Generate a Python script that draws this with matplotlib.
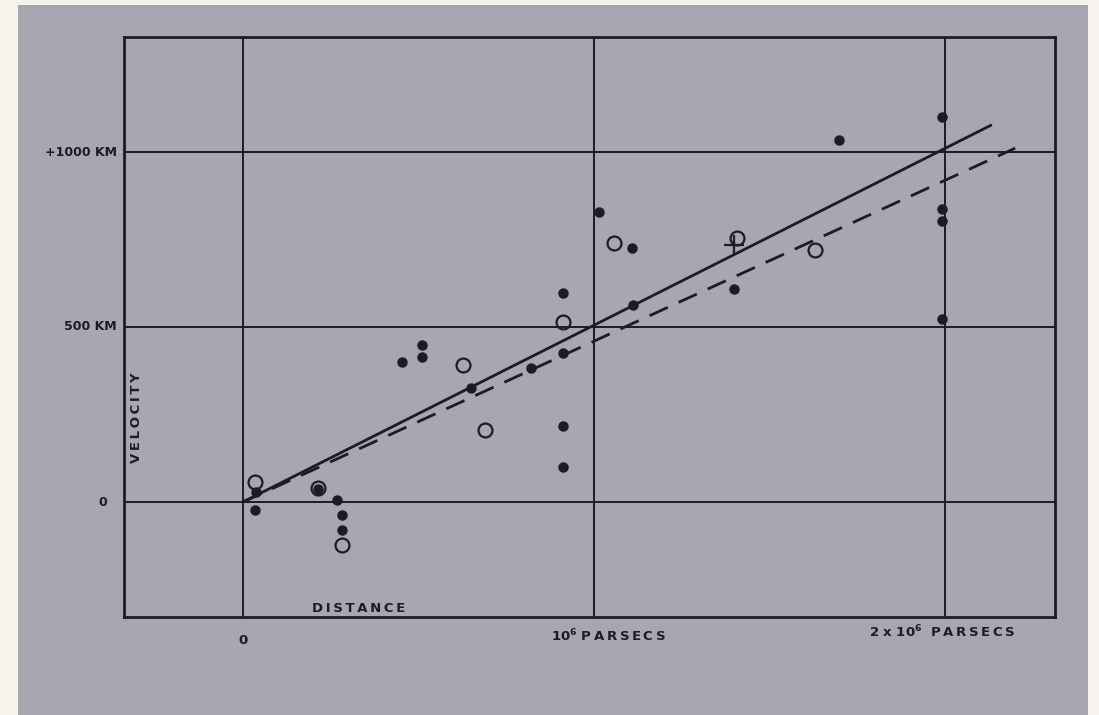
import matplotlib
matplotlib.use("Agg")
import matplotlib.pyplot as plt
from matplotlib.patches import Rectangle

# Distances in units of 10^6 parsecs, velocities in km/s
filled_dist = [0.037, 0.034, 0.214, 0.269, 0.283, 0.283, 0.454, 0.511, 0.511,
               0.649, 0.82, 0.911, 0.911, 0.911, 0.911, 1.014, 1.109, 1.111,
               1.4, 1.697, 1.991, 1.991, 1.991, 1.991]
filled_vel = [29, -23, 37, 6, -37, -80, 400, 449, 414,
              326, 383, 426, 217, 100, 597, 829, 726, 563,
              609, 1034, 1100, 837, 803, 523]

open_dist = [0.034, 0.214, 0.283, 0.626, 0.689, 0.911, 1.057, 1.406, 1.629]
open_vel = [57, 40, -123, 391, 206, 514, 740, 754, 720]

cross_dist = [1.40]
cross_vel = [735]

solid_line_x = [0.0, 2.13]
solid_line_y = [0.0, 1076]
dashed_line_x = [0.0, 2.20]
dashed_line_y = [0.0, 1011]

ytick_vals = [0, 500, 1000]
ytick_labels = ["0", "500 KM", "+1000 KM"]
xtick_vals = [0, 1, 2]

cream = "#f6f3ec"
gray = "#a8a6b0"
ink = "#1c1c22"
TS = "\u2009"  # thin space for letter spacing


def spaced(s):
    return TS.join(s)


W, H = 1099, 715
fig = plt.figure(figsize=(W / 100, H / 100), dpi=100, facecolor=cream)
# photographed page area
fig.patches.append(Rectangle((18 / W, 0), (1088 - 18) / W, (715 - 5) / H,
                             transform=fig.transFigure, facecolor=gray,
                             edgecolor="none", zorder=-10))

left, right, top, bottom = 124, 1055, 37, 617
ax = fig.add_axes([left / W, 1 - bottom / H, (right - left) / W, (bottom - top) / H])
ax.set_zorder(5)
ax.set_facecolor(gray)

x0px, xscale = 243, 351.0
y0px, yscale = 502, 175.0 / 500
ax.set_xlim((left - x0px) / xscale, (right - x0px) / xscale)
ax.set_ylim((y0px - bottom) / yscale, (y0px - top) / yscale)

for s in ax.spines.values():
    s.set_linewidth(2.0)
    s.set_color(ink)
ax.set_xticks([])
ax.set_yticks([])

for xv in xtick_vals:
    ax.axvline(xv, color=ink, lw=1.4, zorder=1)
for yv in ytick_vals:
    ax.axhline(yv, color=ink, lw=1.4, zorder=1)

ax.plot(solid_line_x, solid_line_y, color=ink, lw=2.0, zorder=2)
ax.plot(dashed_line_x, dashed_line_y, color=ink, lw=2.0, zorder=2,
        dashes=(7.2, 4.3))

ax.plot(filled_dist, filled_vel, "o", color=ink, ms=6.5, zorder=3)
ax.plot(open_dist, open_vel, "o", mfc="none", mec=ink, mew=1.6, ms=10, zorder=3)
ax.plot(cross_dist, cross_vel, "+", color=ink, ms=14, mew=1.6, zorder=3)

yfont = dict(family="DejaVu Sans", fontweight="bold", color=ink, fontsize=9, zorder=20)
xfont = dict(family="DejaVu Sans", fontweight="bold", color=ink, fontsize=9.5, zorder=20)

# y labels (left of frame)
for yv, lab in zip(ytick_vals, ytick_labels):
    ypos = 1 - (y0px - yv * yscale) / H
    if lab == "0":
        fig.text(103 / W, ypos, lab, ha="center", va="center", **yfont)
    else:
        fig.text(117 / W, ypos, lab, ha="right", va="center", **yfont)

fig.text(137 / W, 1 - 418 / H, spaced("VELOCITY"), rotation=90,
         ha="center", va="center", **xfont)
fig.text(359 / W, 1 - 608 / H, spaced("DISTANCE"), ha="center", va="center", **xfont)

fig.text(243 / W, 1 - 640 / H, "0", ha="center", va="center", **xfont)
fig.text(551 / W, 1 - 636 / H, r"10$^{\mathbf{6}}$ " + spaced("PARSECS"),
         ha="left", va="center", **xfont)
fig.text(869 / W, 1 - 632 / H, r"2 x 10$^{\mathbf{6}}$  " + spaced("PARSECS"),
         ha="left", va="center", **xfont)

fig.savefig("out.png", dpi=100, facecolor=cream)
